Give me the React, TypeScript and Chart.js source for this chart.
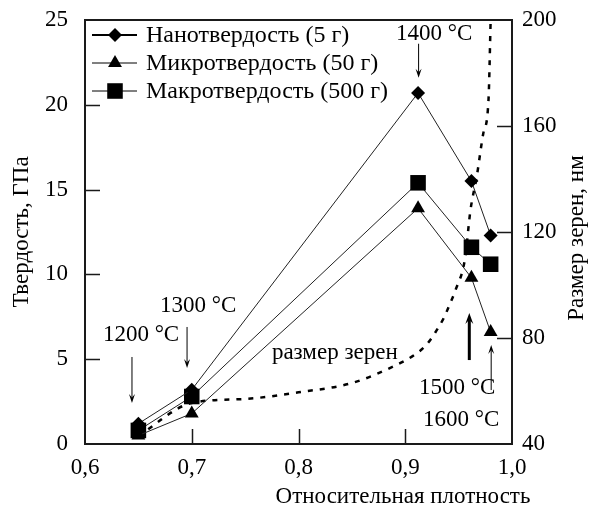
import React, { useEffect, useRef } from 'react';
import { Chart, registerables } from 'chart.js';

Chart.register(...registerables);

// ---- data ----
const densityPoints = [0.65, 0.70, 0.912, 0.962, 0.98];
const nanoHardness = [1.2, 3.2, 20.7, 15.5, 12.3];
const microHardness = [0.5, 1.8, 13.9, 9.8, 6.6];
const macroHardness = [0.8, 2.8, 15.4, 11.6, 10.6];

const grainDensity = [0.65, 0.70, 0.75, 0.80, 0.85, 0.89, 0.91, 0.92, 0.928, 0.936, 0.942, 0.947, 0.956, 0.961, 0.967, 0.973, 0.978, 0.980];
const grainSize = [43, 55.5, 57, 59.5, 63, 69.5, 74, 77.5, 82, 87.5, 93, 98, 110, 128, 141, 157, 170, 200];

const xTickValues = [0.6, 0.7, 0.8, 0.9, 1.0];
const xTickLabels = ['0,6', '0,7', '0,8', '0,9', '1,0'];
const yTickValues = [0, 5, 10, 15, 20, 25];
const y2TickValues = [40, 80, 120, 160, 200];

const seriesNames = ['Нанотвердость (5 г)', 'Микротвердость (50 г)', 'Макротвердость (500 г)'];
const xTitle = 'Относительная плотность';
const yTitle = 'Твердость, ГПа';
const y2Title = 'Размер зерен, нм';
const grainLabel = 'размер зерен';

// annotations in data coords (hardness axis)
const annotationTexts = ['1200 °C', '1300 °C', '1400 °C', '1500 °C', '1600 °C'];
const annotationX = [0.6525, 0.706, 0.927, 0.9486, 0.9524];
const annotationY = [6.43, 8.14, 24.2, 3.3, 1.42];
// arrows: x, from y, to y (head at "to")
const arrowX = [0.644, 0.6956, 0.9125, 0.96, 0.9805];
const arrowFrom = [5.13, 6.9, 23.6, 4.95, 3.18];
const arrowTo = [2.42, 4.48, 21.6, 7.72, 5.84];
const arrowWidth = [1, 1, 1, 3, 1];
const grainLabelPos = [0.834, 5.37];

const FONT = "'Liberation Serif', 'Times New Roman', serif";
const AXIS = '#1a1a1a';

function drawMarker(ctx: CanvasRenderingContext2D, style: string, x: number, y: number, r: number) {
  ctx.beginPath();
  if (style === 'rectRot') {
    ctx.moveTo(x - r, y);
    ctx.lineTo(x, y - r);
    ctx.lineTo(x + r, y);
    ctx.lineTo(x, y + r);
  } else if (style === 'triangle') {
    const s = Math.sin(Math.PI / 3) * r;
    ctx.moveTo(x, y - r);
    ctx.lineTo(x + s, y + r / 2);
    ctx.lineTo(x - s, y + r / 2);
  } else {
    const s = Math.SQRT1_2 * r;
    ctx.rect(x - s, y - s, 2 * s, 2 * s);
  }
  ctx.closePath();
  ctx.fill();
}

const pointStyles = ['rectRot', 'triangle', 'rect'];
const pointRadii = [7, 8, 11];
const legendLineWidths = [2, 1, 1];

const overlayPlugin = {
  id: 'overlay',
  afterDraw(chart: any) {
    const { ctx, chartArea: a, scales } = chart;
    const sx = scales.x, sy = scales.y, sy2 = scales.y2;
    ctx.save();
    // top border
    ctx.strokeStyle = AXIS;
    ctx.lineWidth = 2;
    ctx.beginPath();
    ctx.moveTo(a.left - 1, a.top);
    ctx.lineTo(a.right + 1, a.top);
    ctx.stroke();

    // inward ticks
    ctx.lineWidth = 1.5;
    ctx.beginPath();
    xTickValues.slice(1, -1).forEach((v) => {
      const px = Math.round(sx.getPixelForValue(v)) + 0.5;
      ctx.moveTo(px, a.bottom);
      ctx.lineTo(px, a.bottom - 15);
    });
    yTickValues.slice(1, -1).forEach((v) => {
      const py = Math.round(sy.getPixelForValue(v)) + 0.5;
      ctx.moveTo(a.left, py);
      ctx.lineTo(a.left + 15, py);
    });
    y2TickValues.slice(1, -1).forEach((v) => {
      const py = Math.round(sy2.getPixelForValue(v)) + 0.5;
      ctx.moveTo(a.right, py);
      ctx.lineTo(a.right - 15, py);
    });
    ctx.stroke();

    // legend
    ctx.fillStyle = '#000';
    ctx.strokeStyle = '#000';
    ctx.font = `24px ${FONT}`;
    ctx.textBaseline = 'middle';
    ctx.textAlign = 'left';
    const rowsY = [35, 63, 91];
    seriesNames.forEach((name, i) => {
      const yy = rowsY[i];
      ctx.lineWidth = legendLineWidths[i];
      ctx.beginPath();
      ctx.moveTo(92, yy);
      ctx.lineTo(137, yy);
      ctx.stroke();
      drawMarker(ctx, pointStyles[i], 115, yy, pointRadii[i]);
      ctx.fillText(name, 146, yy + 1);
    });

    // annotations
    ctx.font = `23px ${FONT}`;
    ctx.textAlign = 'center';
    annotationTexts.forEach((t, i) => {
      ctx.fillText(t, sx.getPixelForValue(annotationX[i]), sy.getPixelForValue(annotationY[i]));
    });
    ctx.fillText(grainLabel, sx.getPixelForValue(grainLabelPos[0]), sy.getPixelForValue(grainLabelPos[1]));

    // arrows
    arrowX.forEach((xv, i) => {
      const px = sx.getPixelForValue(xv);
      const p1 = sy.getPixelForValue(arrowFrom[i]);
      const p2 = sy.getPixelForValue(arrowTo[i]);
      const dir = p2 > p1 ? 1 : -1;
      const head = arrowWidth[i] > 1 ? 11 : 9;
      const hw = arrowWidth[i] > 1 ? 4 : 3;
      ctx.lineWidth = arrowWidth[i];
      ctx.beginPath();
      ctx.moveTo(px, p1);
      ctx.lineTo(px, p2 - dir * head * 0.6);
      ctx.stroke();
      ctx.beginPath();
      ctx.moveTo(px, p2);
      ctx.lineTo(px - hw, p2 - dir * head);
      ctx.lineTo(px, p2 - dir * head * 0.6);
      ctx.lineTo(px + hw, p2 - dir * head);
      ctx.closePath();
      ctx.fill();
    });

    // x axis title (offset to the right as in the reference)
    ctx.font = `23px ${FONT}`;
    ctx.textAlign = 'center';
    ctx.textBaseline = 'middle';
    ctx.fillText(xTitle, 403, 497);

    // right axis title (rotated, reading bottom to top)
    ctx.translate(577, 238);
    ctx.rotate(-Math.PI / 2);
    ctx.fillText(y2Title, 0, 0);
    ctx.restore();
  },
};

export default function App() {
  const canvasRef = useRef<HTMLCanvasElement | null>(null);

  useEffect(() => {
    if (!canvasRef.current) return;
    const mk = (ys: number[]) => densityPoints.map((x, i) => ({ x, y: ys[i] }));
    const base = {
      showLine: true,
      borderColor: '#222',
      borderWidth: 1,
      pointBackgroundColor: '#000',
      pointBorderColor: '#000',
      pointBorderWidth: 0,
      yAxisID: 'y',
    };
    const hiddenTicks = (len: number) => ({
      display: true,
      drawOnChartArea: false,
      drawTicks: true,
      tickLength: len,
      color: 'rgba(0,0,0,0)',
    });
    const chart = new Chart(canvasRef.current, {
      type: 'scatter',
      data: {
        datasets: [
          { ...base, label: seriesNames[0], data: mk(nanoHardness), pointStyle: 'rectRot', pointRadius: 7 },
          { ...base, label: seriesNames[1], data: mk(microHardness), pointStyle: 'triangle', pointRadius: 8 },
          { ...base, label: seriesNames[2], data: mk(macroHardness), pointStyle: 'rect', pointRadius: 11 },
          {
            label: grainLabel,
            data: grainDensity.map((x, i) => ({ x, y: grainSize[i] })),
            showLine: true,
            borderColor: '#000',
            borderWidth: 2.5,
            borderDash: [5, 7],
            pointRadius: 0,
            cubicInterpolationMode: 'monotone',
            yAxisID: 'y2',
          },
        ] as any,
      },
      options: {
        responsive: false,
        animation: false,
        devicePixelRatio: 1,
        layout: { padding: { top: 20, left: 0, right: 0, bottom: 0 } },
        plugins: { legend: { display: false }, tooltip: { enabled: false } },
        scales: {
          x: {
            type: 'linear',
            position: 'bottom',
            min: 0.6,
            max: 1.0,
            afterBuildTicks: (s: any) => { s.ticks = xTickValues.map((v) => ({ value: v })); },
            afterFit: (s: any) => { s.height = 66; },
            ticks: {
              color: '#000',
              font: { family: FONT, size: 23 },
              padding: 10,
              maxRotation: 0,
              autoSkip: false,
              callback: (v: any) => {
                const i = xTickValues.findIndex((t) => Math.abs(t - Number(v)) < 1e-6);
                return i >= 0 ? xTickLabels[i] : '';
              },
            },
            grid: { display: false, drawTicks: false },
            border: { display: true, color: AXIS, width: 2 },
          },
          y: {
            type: 'linear',
            position: 'left',
            min: 0,
            max: 25,
            afterBuildTicks: (s: any) => { s.ticks = yTickValues.map((v) => ({ value: v })); },
            afterFit: (s: any) => { s.width = 85; },
            ticks: { color: '#000', font: { family: FONT, size: 23 }, padding: 0 },
            grid: hiddenTicks(17),
            border: { display: true, color: AXIS, width: 2 },
            title: {
              display: true,
              text: yTitle,
              color: '#000',
              font: { family: FONT, size: 23 },
              padding: { top: 8, bottom: 0 },
            },
          },
          y2: {
            type: 'linear',
            position: 'right',
            min: 40,
            max: 200,
            afterBuildTicks: (s: any) => { s.ticks = y2TickValues.map((v) => ({ value: v })); },
            afterFit: (s: any) => { s.width = 80; },
            ticks: { color: '#000', font: { family: FONT, size: 23 }, padding: 0 },
            grid: hiddenTicks(10),
            border: { display: true, color: AXIS, width: 2 },
          },
        },
      } as any,
      plugins: [overlayPlugin],
    });
    return () => chart.destroy();
  }, []);

  return (
    <div style={{ position: 'absolute', left: 0, top: 0, width: 592, height: 510, background: '#fff' }}>
      <canvas ref={canvasRef} width={592} height={510} style={{ display: 'block', width: 592, height: 510 }} />
    </div>
  );
}
